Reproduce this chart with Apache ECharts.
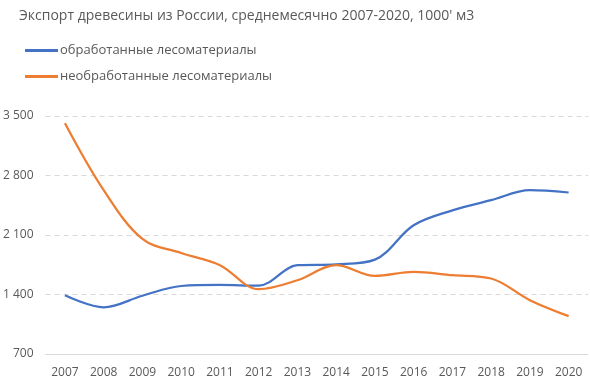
<!DOCTYPE html>
<html><head><meta charset="utf-8">
<script src="https://cdn.jsdelivr.net/npm/echarts@6/dist/echarts.min.js"></script>
<style>html,body{margin:0;padding:0;background:#fff}#c{width:590px;height:385px}</style>
</head><body><div id="c"></div>
<script>
const years = ['2007','2008','2009','2010','2011','2012','2013','2014','2015','2016','2017','2018','2019','2020'];
const processed = [1390, 1250, 1385, 1500, 1512, 1505, 1745, 1755, 1810, 2215, 2390, 2510, 2627, 2600];
const unprocessed = [3414, 2627, 2053, 1888, 1745, 1462, 1568, 1745, 1619, 1666, 1627, 1588, 1333, 1145];
const seriesNames = ['обработанные лесоматериалы', 'необработанные лесоматериалы'];
const titleText = "Экспорт древесины из России, среднемесячно 2007-2020, 1000' м3";
const yTicks = [700, 1400, 2100, 2800, 3500];

const FONT = 'Open Sans';
const chart = echarts.init(document.getElementById('c'), null, {renderer: 'canvas'});
chart.setOption({
  animation: false,
  backgroundColor: '#fff',
  title: {text: titleText, left: 14, top: 4, textStyle: {fontFamily: FONT, fontSize: 14, fontWeight: 'normal', color: '#595959'}},
  legend: {
    orient: 'vertical', left: 20, top: 39, itemGap: 13, itemWidth: 33, itemHeight: 3, icon: 'rect',
    textStyle: {fontFamily: FONT, fontSize: 13, color: '#595959', padding: [0,0,0,-3]},
    data: seriesNames
  },
  grid: {left: 44, right: 2, top: 116, bottom: 31, containLabel: false},
  xAxis: {
    type: 'category', data: years, boundaryGap: true,
    axisLine: {lineStyle: {color: '#d9d9d9', width: 1}},
    axisTick: {show: false},
    axisLabel: {fontFamily: FONT, fontSize: 12, color: '#595959', margin: 13}
  },
  yAxis: {
    type: 'value', min: yTicks[0], max: yTicks[yTicks.length-1], interval: 700,
    axisLine: {show: false}, axisTick: {show: false},
    splitLine: {lineStyle: {color: '#d9d9d9', type: [5,4], width: 1}},
    axisLabel: {fontFamily: FONT, fontSize: 12, color: '#595959', margin: 12,
      formatter: v => String(v).replace(/\B(?=(\d{3})+(?!\d))/g, ' ')}
  },
  series: [
    {name: seriesNames[0], type: 'line', data: processed, smooth: 0.35, showSymbol: false, symbol: 'none',
     lineStyle: {color: '#4472C4', width: 2.25}, itemStyle: {color: '#4472C4'}},
    {name: seriesNames[1], type: 'line', data: unprocessed, smooth: 0.35, showSymbol: false, symbol: 'none',
     lineStyle: {color: '#ED7D31', width: 2.25}, itemStyle: {color: '#ED7D31'}}
  ]
});
</script></body></html>
